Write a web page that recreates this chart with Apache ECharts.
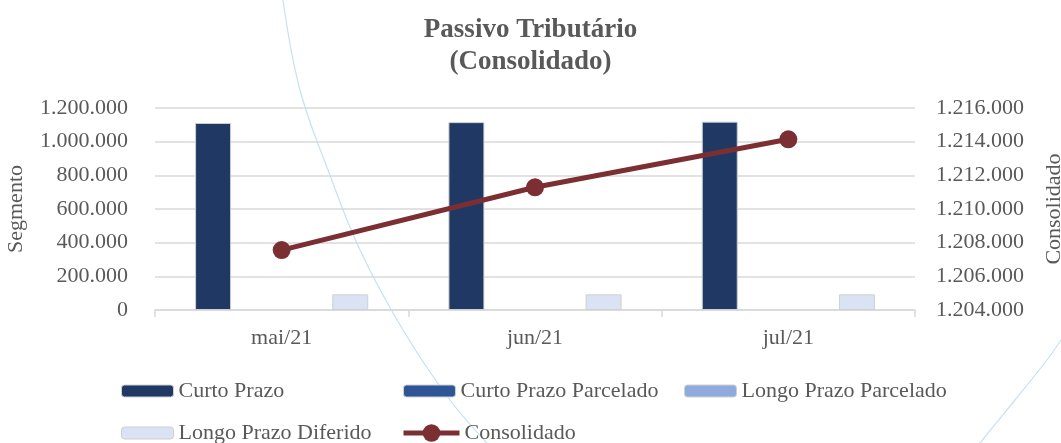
<!DOCTYPE html>
<html>
<head>
<meta charset="utf-8">
<script src="https://cdn.jsdelivr.net/npm/echarts@6/dist/echarts.min.js"></script>
<style>html,body{margin:0;padding:0;background:#fff}#c{width:1061px;height:443px}</style>
</head>
<body>
<div id="c"></div>
<script>
var categories = ['mai/21', 'jun/21', 'jul/21'];
var curtoPrazo = [1111000, 1116000, 1119000];
var curtoPrazoParcelado = [0, 0, 0];
var longoPrazoParcelado = [0, 0, 0];
var longoPrazoDiferido = [93000, 93000, 93000];
var consolidado = [1207560, 1211290, 1214140];
var leftTicks = {min: 0, max: 1200000, interval: 200000};
var rightTicks = {min: 1204000, max: 1216000, interval: 2000};

var FONT = '"Liberation Serif", "DejaVu Serif", serif';
var GRAY = '#595959';
function fmt(v) { return String(Math.round(v)).replace(/\B(?=(\d{3})+(?!\d))/g, '.'); }

var chart = echarts.init(document.getElementById('c'), null, {renderer: 'canvas'});
function legendAt(name, left, top, extra) {
  var l = {
    data: [name], left: left, top: top, orient: 'horizontal',
    itemWidth: 52, itemHeight: 12, itemGap: 5,
    itemStyle: {borderColor: '#d0d0d0', borderWidth: 1},
    textStyle: {fontFamily: FONT, fontSize: 22, color: GRAY, padding: [0, 0, 0, 0]},
    padding: 0, selectedMode: false
  };
  return Object.assign(l, extra || {});
}
chart.setOption({
  animation: false,
  backgroundColor: '#ffffff',
  title: {
    text: 'Passivo Tributário\n(Consolidado)',
    left: 'center', top: 9,
    textStyle: {fontFamily: FONT, fontSize: 27, fontWeight: 'bold', color: GRAY, lineHeight: 32}
  },
  graphic: [
    {type: 'polyline', silent: true, z: -10,
      shape: {points: [[283, 0], [300, 90], [328, 170], [360, 250], [403, 330], [450, 400], [487, 443]], smooth: 0.4},
      style: {stroke: '#c5e3ee', lineWidth: 1.2, fill: null}},
    {type: 'polyline', silent: true, z: -10,
      shape: {points: [[1061, 340], [1047, 360], [1015, 400], [980, 443]], smooth: 0.3},
      style: {stroke: '#c5e3ee', lineWidth: 1.2, fill: null}}
  ],
  legend: [
    legendAt('Curto Prazo', 121, 380),
    legendAt('Curto Prazo Parcelado', 403, 380),
    legendAt('Longo Prazo Parcelado', 684, 380),
    legendAt('Longo Prazo Diferido', 121, 422),
    legendAt('Consolidado', 401, 422, {itemWidth: 56, itemHeight: 22, lineStyle: {width: 5}, itemStyle: {borderWidth: 0}})
  ],
  grid: {left: 155, right: 146, top: 108, bottom: 133, containLabel: false, outerBoundsMode: 'none'},
  xAxis: {
    type: 'category', data: categories,
    axisLine: {lineStyle: {color: '#d9d9d9', width: 1.5}},
    axisTick: {show: true, length: 7, lineStyle: {color: '#d9d9d9', width: 1.5}},
    axisLabel: {fontFamily: FONT, fontSize: 22, color: GRAY, margin: 17}
  },
  yAxis: [
    {
      type: 'value', min: leftTicks.min, max: leftTicks.max, interval: leftTicks.interval,
      name: 'Segmento', nameLocation: 'middle', nameGap: 128, nameRotate: 90,
      nameTextStyle: {fontFamily: FONT, fontSize: 22, color: GRAY},
      axisLine: {show: false}, axisTick: {show: false},
      axisLabel: {fontFamily: FONT, fontSize: 22, color: GRAY, margin: 27, formatter: fmt},
      splitLine: {lineStyle: {color: '#d9d9d9', width: 1.5}}
    },
    {
      type: 'value', min: rightTicks.min, max: rightTicks.max, interval: rightTicks.interval,
      name: 'Consolidado', nameLocation: 'middle', nameGap: 128, nameRotate: 90,
      nameTextStyle: {fontFamily: FONT, fontSize: 22, color: GRAY},
      axisLine: {show: false}, axisTick: {show: false},
      axisLabel: {fontFamily: FONT, fontSize: 22, color: GRAY, margin: 21, formatter: fmt},
      splitLine: {show: false}
    }
  ],
  series: [
    {name: 'Curto Prazo', type: 'bar', data: curtoPrazo, barWidth: 36, barGap: '27%',
      itemStyle: {color: '#203864', borderColor: '#d0d0d0', borderWidth: 1}},
    {name: 'Curto Prazo Parcelado', type: 'bar', data: curtoPrazoParcelado, barWidth: 36, barGap: '27%',
      itemStyle: {color: '#2f5597', borderWidth: 0}},
    {name: 'Longo Prazo Parcelado', type: 'bar', data: longoPrazoParcelado, barWidth: 36, barGap: '27%',
      itemStyle: {color: '#8faadc', borderWidth: 0}},
    {name: 'Longo Prazo Diferido', type: 'bar', data: longoPrazoDiferido, barWidth: 36, barGap: '27%',
      itemStyle: {color: '#dae3f3', borderColor: '#d0d0d0', borderWidth: 1}},
    {name: 'Consolidado', type: 'line', yAxisIndex: 1, data: consolidado,
      symbol: 'circle', symbolSize: 18,
      lineStyle: {color: '#7b2f33', width: 5},
      itemStyle: {color: '#7b2f33'}}
  ]
});
</script>
</body>
</html>
